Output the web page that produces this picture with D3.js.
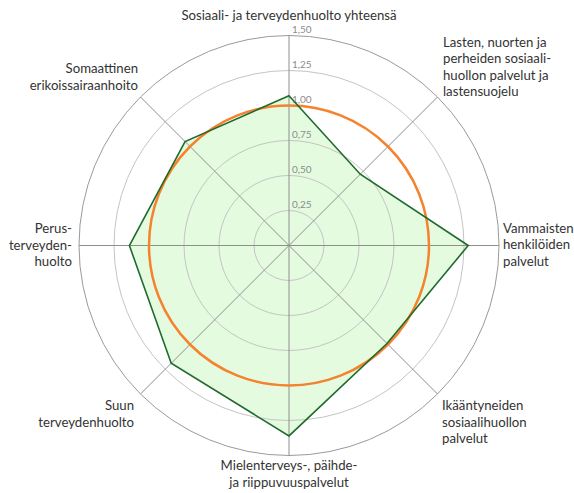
<!DOCTYPE html>
<html>
<head>
<meta charset="utf-8">
<script src="https://cdn.jsdelivr.net/npm/d3@7"></script>
<style>
  html, body { margin: 0; padding: 0; background: #fff; }
  svg { display: block; }
  .lbl { font-family: Lato, "Liberation Sans", sans-serif; font-size: 13.2px; fill: #333; }
  .tick { font-family: Lato, "Liberation Sans", sans-serif; font-size: 10px; fill: #8c8c8c; }
</style>
</head>
<body>
<svg id="chart" width="574" height="493"></svg>
<script>
// axis labels, clockwise from the top
const categories = [
  ["Sosiaali- ja terveydenhuolto yhteensä"],
  ["Lasten, nuorten ja", "perheiden sosiaali-", "huollon palvelut ja", "lastensuojelu"],
  ["Vammaisten", "henkilöiden", "palvelut"],
  ["Ikääntyneiden", "sosiaalihuollon", "palvelut"],
  ["Mielenterveys-, päihde-", "ja riippuvuuspalvelut"],
  ["Suun", "terveydenhuolto"],
  ["Perus-", "terveyden-", "huolto"],
  ["Somaattinen", "erikoissairaanhoito"]
];
const values = [1.07, 0.72, 1.28, 0.99, 1.36, 1.19, 1.14, 1.05];
const reference = 1.0;
const ticks = [0.25, 0.5, 0.75, 1.0, 1.25, 1.5];
const tickLabels = ["0,25", "0,50", "0,75", "1,00", "1,25", "1,50"];

const cx = 289, cy = 245.5;
const svg = d3.select("#chart");
const r = d3.scaleLinear().domain([0, 1.5]).range([0, 210]);
const angle = d3.scaleLinear().domain([0, categories.length]).range([0, 2 * Math.PI]);

const g = svg.append("g").attr("transform", `translate(${cx},${cy})`);

const radial = d3.lineRadial()
  .angle((d, i) => angle(i))
  .radius((d) => r(d))
  .curve(d3.curveLinearClosed);

// filled area first so the grid shows through
g.append("path")
  .datum(values)
  .attr("d", radial)
  .attr("fill", "#e4fbdf");

// rings
g.selectAll(".ring")
  .data(ticks)
  .enter()
  .append("circle")
  .attr("r", (d) => r(d))
  .attr("fill", "none")
  .attr("stroke", (d) => (d === 1.5 ? "#9a9a9a" : "#c4c4c4"))
  .attr("stroke-width", 1);

// spokes
g.selectAll(".spoke")
  .data(categories)
  .enter()
  .append("line")
  .attr("x1", 0)
  .attr("y1", 0)
  .attr("x2", (d, i) => r(1.5) * Math.sin(angle(i)))
  .attr("y2", (d, i) => -r(1.5) * Math.cos(angle(i)))
  .attr("stroke", "#8f8f8f")
  .attr("stroke-width", 1);

// tick labels along the top spoke
g.selectAll(".tick")
  .data(ticks)
  .enter()
  .append("text")
  .attr("class", "tick")
  .attr("x", 3)
  .attr("y", (d) => -r(d) - 3)
  .text((d, i) => tickLabels[i]);

// reference level
g.append("circle")
  .attr("r", r(reference))
  .attr("fill", "none")
  .attr("stroke", "#f5822e")
  .attr("stroke-width", 2.5);

// data outline
g.append("path")
  .datum(values)
  .attr("d", radial)
  .attr("fill", "none")
  .attr("stroke", "#1f6b2d")
  .attr("stroke-width", 1.6);

// category labels: [x, y of first baseline, anchor]
const labelPos = [
  [0, -225.5, "middle"],
  [154, -199, "start"],
  [214, -13, "start"],
  [153, 164.5, "start"],
  [0, 224.5, "middle"],
  [-155, 164.5, "end"],
  [-217, -12.5, "end"],
  [-151, -172.5, "end"]
];
const lineH = 16.6;

const labels = g.selectAll(".lbl")
  .data(categories)
  .enter()
  .append("text")
  .attr("class", "lbl")
  .attr("text-anchor", (d, i) => labelPos[i][2]);

labels.each(function (lines, i) {
  d3.select(this)
    .selectAll("tspan")
    .data(lines)
    .enter()
    .append("tspan")
    .attr("x", labelPos[i][0])
    .attr("y", (d, j) => labelPos[i][1] + j * lineH)
    .text((d) => d);
});
</script>
</body>
</html>
